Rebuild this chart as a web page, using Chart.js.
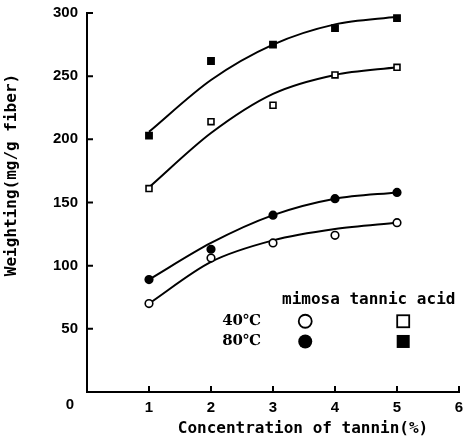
<!DOCTYPE html>
<html>
<head>
<meta charset="utf-8">
<script src="https://cdn.jsdelivr.net/npm/chart.js@4.4.1/dist/chart.umd.min.js"></script>
<style>
  html, body { margin: 0; padding: 0; background: #fff; }
  #wrap { width: 465px; height: 439px; position: relative; }
</style>
</head>
<body>
<div id="wrap"><canvas id="c"></canvas></div>
<script>
// Concentration of tannin (%)
const conc = [1, 2, 3, 4, 5];

// measured points (mg/g fiber)
const tannic80 = [203, 262, 275, 288, 296];
const tannic40 = [161, 214, 227, 251, 257];
const mimosa80 = [89, 113, 140, 153, 158];
const mimosa40 = [70, 106, 118, 124, 134];

// fitted curves
const tannic80Fit = [206, 247, 275, 291, 297];
const tannic40Fit = [162, 205, 236, 251, 257];
const mimosa80Fit = [89, 118, 140, 153, 158];
const mimosa40Fit = [70, 103, 120, 129, 134];

const xTicks = [0, 1, 2, 3, 4, 5, 6];
const yTicks = [0, 50, 100, 150, 200, 250, 300];

const pairs = ys => conc.map((x, i) => ({ x, y: ys[i] }));

function fitLine(ys) {
    return { data: pairs(ys), borderColor: '#000', borderWidth: 2, pointRadius: 0,
             tension: 0.3, fill: false, order: 2 };
}
function marks(ys, style, filled, r) {
    return { data: pairs(ys), showLine: false, pointStyle: style, pointRadius: r,
             pointBorderWidth: 1.6, pointBorderColor: '#000',
             pointBackgroundColor: filled ? '#000' : '#fff', order: 1 };
}

// inward tick marks, axis titles, origin "0" and the legend block
const extras = {
    id: 'extras',
    afterDraw(chart) {
        const { ctx, scales: { x, y } } = chart;
        const x0 = x.getPixelForValue(0), y0 = y.getPixelForValue(0);
        ctx.save();
        ctx.strokeStyle = '#000';
        ctx.lineWidth = 2;
        ctx.beginPath();
        yTicks.slice(1).forEach(v => { const p = y.getPixelForValue(v); ctx.moveTo(x0, p); ctx.lineTo(x0 + 6, p); });
        xTicks.slice(1).forEach(v => { const p = x.getPixelForValue(v); ctx.moveTo(p, y0); ctx.lineTo(p, y0 - 6); });
        ctx.stroke();

        ctx.fillStyle = '#000';
        ctx.font = 'bold 15px "Liberation Sans"';
        ctx.textAlign = 'center';
        ctx.textBaseline = 'middle';
        ctx.fillText('0', x0 - 17, y0 + 13);

        ctx.font = 'bold 16px "DejaVu Sans Mono"';
        ctx.fillText('Concentration of tannin(%)', 303, 429);
        ctx.save();
        ctx.translate(12, 175);
        ctx.rotate(-Math.PI / 2);
        ctx.fillText('Weighting(mg/g fiber)', 0, 0);
        ctx.restore();

        // legend, placed in data units
        const colA = x.getPixelForValue(3.52), colB = x.getPixelForValue(5.1);
        const rowH = y.getPixelForValue(73), row1 = y.getPixelForValue(56), row2 = y.getPixelForValue(40);
        ctx.font = 'bold 16px "DejaVu Sans Mono"';
        ctx.textAlign = 'left';
        ctx.fillText('mimosa tannic acid', 282, rowH);
        ctx.font = 'bold 15px "DejaVu Serif"';
        ctx.textAlign = 'right';
        ctx.fillText('40\u2103', 261, row1);
        ctx.fillText('80\u2103', 261, row2);

        ctx.lineWidth = 1.8;
        ctx.beginPath(); ctx.arc(colA, row1, 6.5, 0, Math.PI * 2); ctx.stroke();
        ctx.beginPath(); ctx.arc(colA, row2, 7, 0, Math.PI * 2); ctx.fill();
        ctx.strokeRect(colB - 6, row1 - 6, 12, 12);
        ctx.fillRect(colB - 6.5, row2 - 6.5, 13, 13);
        ctx.restore();
    }
};

new Chart(document.getElementById('c'), {
    type: 'line',
    data: {
        datasets: [
            fitLine(tannic80Fit), fitLine(tannic40Fit), fitLine(mimosa80Fit), fitLine(mimosa40Fit),
            marks(tannic80, 'rect', true, 4.4), marks(tannic40, 'rect', false, 4.2),
            marks(mimosa80, 'circle', true, 3.8), marks(mimosa40, 'circle', false, 3.8)
        ]
    },
    options: {
        responsive: true,
        maintainAspectRatio: false,
        animation: false,
        layout: { padding: { top: 13, right: 3, left: 0, bottom: 0 } },
        plugins: { legend: { display: false }, tooltip: { enabled: false } },
        scales: {
            x: {
                type: 'linear', min: 0, max: 6,
                afterBuildTicks: s => { s.ticks = xTicks.map(v => ({ value: v })); },
                afterFit: s => { s.height = 47; s.paddingLeft = 0; s.paddingRight = 0; },
                grid: { display: false, drawTicks: false },
                border: { display: true, color: '#000', width: 2 },
                ticks: { color: '#000', padding: 7, font: { family: 'Liberation Sans', weight: 'bold', size: 15 },
                         callback: v => (v === 0 ? '' : v) }
            },
            y: {
                min: 0, max: 300,
                afterBuildTicks: s => { s.ticks = yTicks.map(v => ({ value: v })); },
                afterFit: s => { s.width = 87; s.paddingTop = 0; s.paddingBottom = 0; },
                grid: { display: false, drawTicks: false },
                border: { display: true, color: '#000', width: 2 },
                ticks: { color: '#000', padding: 9, font: { family: 'Liberation Sans', weight: 'bold', size: 15 },
                         callback: v => (v === 0 ? '' : v) }
            }
        }
    },
    plugins: [extras]
});
</script>
</body>
</html>
